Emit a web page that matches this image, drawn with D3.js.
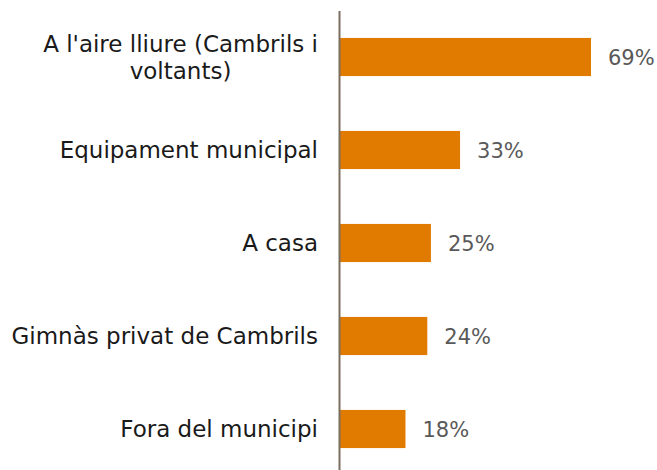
<!DOCTYPE html>
<html>
<head>
<meta charset="utf-8">
<script src="https://cdn.jsdelivr.net/npm/d3@7"></script>
<style>
    body { margin: 0; background: #fff; }
    text { font-family: "Century Gothic", "URW Gothic", "DejaVu Sans", sans-serif; }
</style>
</head>
<body>
<div id="chart"></div>
<script>
    let categories = [
        "A l'aire lliure (Cambrils i voltants)",
        "Equipament municipal",
        "A casa",
        "Gimnàs privat de Cambrils",
        "Fora del municipi"
    ];
    let values = [69, 33, 25, 24, 18];

    let w = 657;
    let h = 470;
    let axisX = 340;
    let labelRight = 318;
    let maxLabelWidth = 316;
    let labelSize = 23;
    let valueSize = 21;

    let svg = d3.select("#chart")
        .append("svg")
        .attr("width", w)
        .attr("height", h);

    let x = d3.scaleLinear()
        .domain([0, 69])
        .range([axisX, 591]);

    let y = d3.scaleBand()
        .domain(categories)
        .range([10.5, 475.5])
        .paddingInner(0.59)
        .paddingOuter(0.295);

    svg.selectAll("rect.bar")
        .data(values)
        .enter()
        .append("rect")
        .attr("class", "bar")
        .attr("x", x(0))
        .attr("y", (d, i) => y(categories[i]))
        .attr("width", (d) => x(d) - x(0))
        .attr("height", y.bandwidth())
        .attr("fill", "#E07B00");

    // value labels
    svg.selectAll("text.val")
        .data(values)
        .enter()
        .append("text")
        .attr("class", "val")
        .attr("x", (d) => x(d) + 17)
        .attr("y", (d, i) => y(categories[i]) + y.bandwidth() / 2)
        .attr("dy", "0.37em")
        .attr("font-size", valueSize)
        .attr("fill", "#595959")
        .text((d) => d + "%");

    // category labels, wrapped like the original
    let measure = svg.append("text").attr("font-size", labelSize);
    let textWidth = (s) => {
        measure.text(s);
        return measure.node().getComputedTextLength();
    };

    let wrap = (s) => {
        let words = s.split(" ");
        let lines = [];
        let line = "";
        words.forEach((word) => {
            let test = line ? line + " " + word : word;
            if (line && textWidth(test) > maxLabelWidth) {
                lines.push(line);
                line = word;
            } else {
                line = test;
            }
        });
        lines.push(line);
        return lines;
    };

    categories.forEach((c) => {
        let lines = wrap(c);
        let widest = d3.max(lines, textWidth);
        let cx = labelRight - widest / 2;
        let cy = y(c) + y.bandwidth() / 2;
        let lineH = 27;
        let t = svg.append("text")
            .attr("font-size", labelSize)
            .attr("fill", "#1a1a1a")
            .attr("text-anchor", "middle");
        lines.forEach((l, i) => {
            t.append("tspan")
                .attr("x", cx)
                .attr("y", cy + (i - (lines.length - 1) / 2) * lineH)
                .attr("dy", "0.36em")
                .text(l);
        });
    });
    measure.remove();

    svg.append("line")
        .attr("x1", axisX - 0.5)
        .attr("x2", axisX - 0.5)
        .attr("y1", 11)
        .attr("y2", h)
        .attr("stroke", "#7A6E60")
        .attr("stroke-width", 2);
</script>
</body>
</html>
